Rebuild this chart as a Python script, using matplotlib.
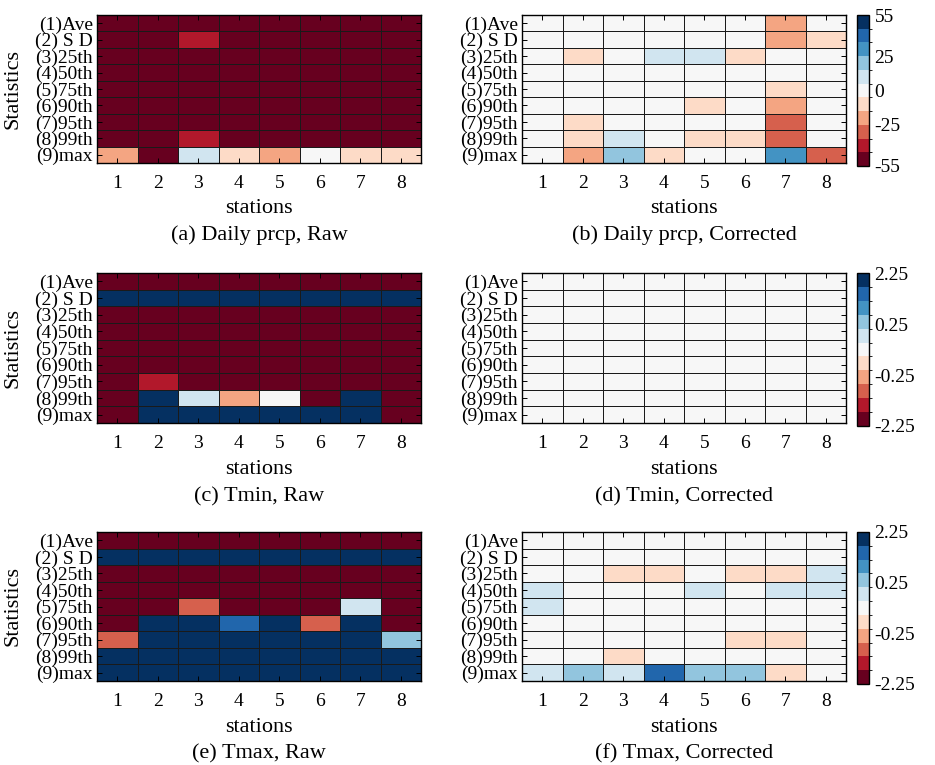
import matplotlib
matplotlib.use("Agg")
import matplotlib.pyplot as plt
import numpy as np
from matplotlib.colors import ListedColormap, BoundaryNorm
from matplotlib.cm import ScalarMappable

plt.rcParams["font.family"] = ["Liberation Serif", "DejaVu Serif"]
plt.rcParams["axes.unicode_minus"] = False

stations = [1, 2, 3, 4, 5, 6, 7, 8]
statistics = ["(1)Ave", "(2) S D", "(3)25th", "(4)50th", "(5)75th",
              "(6)90th", "(7)95th", "(8)99th", "(9)max"]

# relative differences (%) of daily precipitation statistics
prcp_raw = [
    [-80, -80, -80, -80, -80, -80, -80, -80],
    [-80, -80, -40, -80, -80, -80, -80, -80],
    [-80, -80, -80, -80, -80, -80, -80, -80],
    [-80, -80, -80, -80, -80, -80, -80, -80],
    [-80, -80, -80, -80, -80, -80, -80, -80],
    [-80, -80, -80, -80, -80, -80, -80, -80],
    [-80, -80, -80, -80, -80, -80, -80, -80],
    [-80, -80, -40, -80, -80, -80, -80, -80],
    [-20, -80, 10, -10, -20, 0, -10, -10],
]
prcp_cor = [
    [0, 0, 0, 0, 0, 0, -20, 0],
    [0, 0, 0, 0, 0, 0, -20, -10],
    [0, -10, 0, 10, 10, -10, 0, 0],
    [0, 0, 0, 0, 0, 0, 0, 0],
    [0, 0, 0, 0, 0, 0, -10, 0],
    [0, 0, 0, 0, -10, 0, -20, 0],
    [0, -10, 0, 0, 0, 0, -30, 0],
    [0, -10, 10, 0, -10, -10, -30, 0],
    [0, -20, 20, -10, 0, 0, 30, -30],
]

# differences (deg C) of Tmin / Tmax statistics
tmin_raw = [
    [-3, -3, -3, -3, -3, -3, -3, -3],
    [3, 3, 3, 3, 3, 3, 3, 3],
    [-3, -3, -3, -3, -3, -3, -3, -3],
    [-3, -3, -3, -3, -3, -3, -3, -3],
    [-3, -3, -3, -3, -3, -3, -3, -3],
    [-3, -3, -3, -3, -3, -3, -3, -3],
    [-3, -1.25, -3, -3, -3, -3, -3, -3],
    [-3, 3, 0.08, -0.3, 0, -3, 3, -3],
    [-3, 3, 3, 3, 3, 3, 3, -3],
]
tmin_cor = [
    [0, 0, 0, 0, 0, 0, 0, 0],
    [0, 0, 0, 0, 0, 0, 0, 0],
    [0, 0, 0, 0, 0, 0, 0, 0],
    [0, 0, 0, 0, 0, 0, 0, 0],
    [0, 0, 0, 0, 0, 0, 0, 0],
    [0, 0, 0, 0, 0, 0, 0, 0],
    [0, 0, 0, 0, 0, 0, 0, 0],
    [0, 0, 0, 0, 0, 0, 0, 0],
    [0, 0, 0, 0, 0, 0, 0, 0],
]
tmax_raw = [
    [-3, -3, -3, -3, -3, -3, -3, -3],
    [3, 3, 3, 3, 3, 3, 3, 3],
    [-3, -3, -3, -3, -3, -3, -3, -3],
    [-3, -3, -3, -3, -3, -3, -3, -3],
    [-3, -3, -0.75, -3, -3, -3, 0.08, -3],
    [-3, 3, 3, 1.25, 3, -0.75, 3, -3],
    [-0.75, 3, 3, 3, 3, 3, 3, 0.3],
    [3, 3, 3, 3, 3, 3, 3, 3],
    [3, 3, 3, 3, 3, 3, 3, 3],
]
tmax_cor = [
    [0, 0, 0, 0, 0, 0, 0, 0],
    [0, 0, 0, 0, 0, 0, 0, 0],
    [0, 0, -0.08, -0.08, 0, -0.08, -0.08, 0.08],
    [0.08, 0, 0, 0, 0.08, 0, 0.08, 0.08],
    [0.08, 0, 0, 0, 0, 0, 0, 0],
    [0, 0, 0, 0, 0, 0, 0, 0],
    [0, 0, 0, 0, 0, -0.08, -0.08, 0],
    [0, 0, -0.08, 0, 0, 0, 0, 0],
    [0.08, 0.3, 0.08, 1.25, 0.3, 0.3, -0.08, 0],
]

prcp_levels = [-55, -45, -35, -25, -15, -5, 5, 15, 25, 35, 45, 55]
temp_levels = [-2.25, -1.5, -1.0, -0.5, -0.125, -0.05,
               0.05, 0.125, 0.5, 1.0, 1.5, 2.25]
prcp_ticks = [-55, -25, 0, 25, 55]
temp_ticks = [-2.25, -0.25, 0.25, 2.25]

rdbu11 = ["#67001f", "#b2182b", "#d6604d", "#f4a582", "#fddbc7", "#f7f7f7",
          "#d1e5f0", "#92c5de", "#4393c3", "#2166ac", "#053061"]
cmap = ListedColormap(rdbu11)
cmap.set_under(rdbu11[0])
cmap.set_over(rdbu11[-1])

W, H = 935, 765
fig = plt.figure(figsize=(W / 100, H / 100), dpi=100)


def px_axes(left, top, right, bottom):
    return fig.add_axes([left / W, 1 - bottom / H, (right - left) / W, (bottom - top) / H])


def panel(ax, data, norm, caption, ylabel):
    x = np.arange(len(stations) + 1) + 0.5
    y = np.arange(len(statistics) + 1) + 0.5
    ax.pcolormesh(x, y, np.array(data, dtype=float), cmap=cmap, norm=norm,
                  edgecolors="#1a1a1a", linewidth=0.5)
    ax.set_xlim(0.5, 8.5)
    ax.set_ylim(9.5, 0.5)
    ax.set_xticks(stations)
    ax.set_yticks(np.arange(1, 10))
    ax.set_yticklabels(statistics, fontsize=14)
    ax.set_xticklabels([str(s) for s in stations], fontsize=14)
    ax.tick_params(direction="in", length=3.5, width=0.7, top=True, right=True,
                   pad=9)
    ax.tick_params(axis="y", pad=3)
    for s in ax.spines.values():
        s.set_linewidth(1.0)
    ax.text(0.5, -0.31, "stations", transform=ax.transAxes, ha="center",
            va="center", fontsize=16)
    ax.text(0.5, -0.49, caption, transform=ax.transAxes, ha="center",
            va="center", fontsize=16)
    if ylabel:
        ax.text(-0.26, 0.5, "Statistics", transform=ax.transAxes, rotation=90,
                ha="center", va="center", fontsize=16)


rows = [
    (15, 163, prcp_raw, prcp_cor, prcp_levels, prcp_ticks,
     ["-55", "-25", "0", "25", "55"], "Daily prcp", "a", "b"),
    (273, 423, tmin_raw, tmin_cor, temp_levels, temp_ticks,
     ["-2.25", "-0.25", "0.25", "2.25"], "Tmin", "c", "d"),
    (532, 681, tmax_raw, tmax_cor, temp_levels, temp_ticks,
     ["-2.25", "-0.25", "0.25", "2.25"], "Tmax", "e", "f"),
]

for top, bottom, raw, cor, levels, ticks, ticklabels, name, la, lb in rows:
    norm = BoundaryNorm(levels, cmap.N)
    ax1 = px_axes(97, top, 421, bottom)
    panel(ax1, raw, norm, f"({la}) {name}, Raw", True)
    ax2 = px_axes(522, top, 846, bottom)
    panel(ax2, cor, norm, f"({lb}) {name}, Corrected", False)
    cax = px_axes(857, top, 869, bottom + 3)
    cb = fig.colorbar(ScalarMappable(norm=norm, cmap=cmap), cax=cax,
                      spacing="uniform", ticks=ticks)
    cb.ax.set_yticklabels(ticklabels, fontsize=14)
    cb.ax.tick_params(length=0, pad=4)
    cb.outline.set_linewidth(1.0)

fig.savefig("out.png", dpi=100, facecolor="white")
